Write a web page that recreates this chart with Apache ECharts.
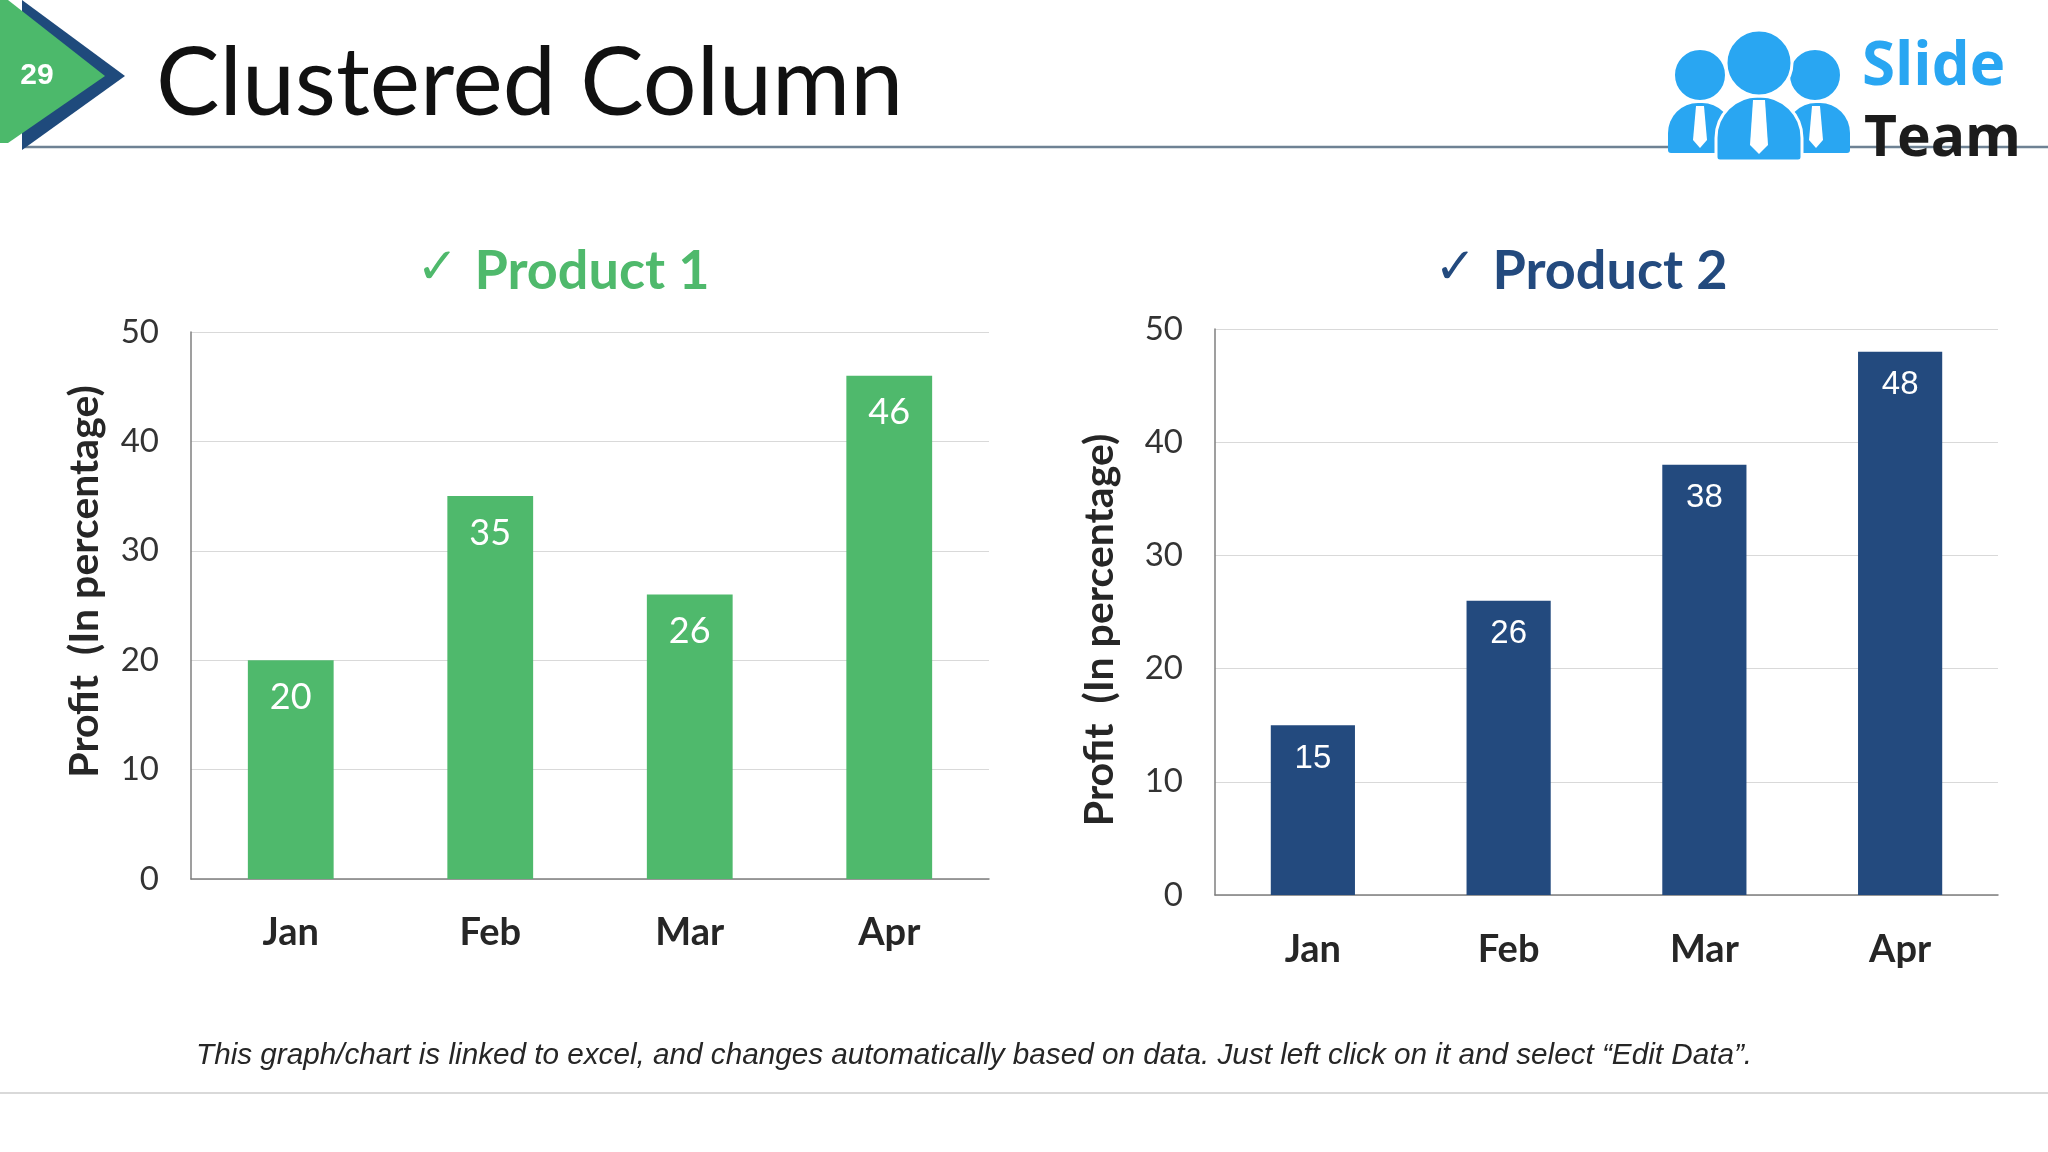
<!DOCTYPE html>
<html>
<head>
<meta charset="utf-8">
<script src="https://cdn.jsdelivr.net/npm/echarts@6/dist/echarts.min.js"></script>
<style>
html,body{margin:0;padding:0;background:#fff;}
#c{width:2048px;height:1152px;}
</style>
</head>
<body>
<div id="c"></div>
<script>
var months = ['Jan', 'Feb', 'Mar', 'Apr'];
var product1 = [20, 35, 26, 46];
var product2 = [15, 26, 38, 48];
var yTicks = [0, 10, 20, 30, 40, 50];
var pageTitle = 'Clustered Column';
var slideNumber = '29';
var axisName = 'Profit  (In percentage)';
var footnote = 'This graph/chart is linked to excel, and changes automatically based on data. Just left click on it and select \u201cEdit Data\u201d.';

var GREEN = '#4fb96c';
var NAVY = '#234a7e';
var chart = echarts.init(document.getElementById('c'));

function yAxis(gridIndex, gap, pad, fam) {
  return {
    type: 'value', gridIndex: gridIndex, min: yTicks[0], max: yTicks[yTicks.length - 1], interval: 10,
    name: axisName, nameLocation: 'middle', nameGap: gap, nameRotate: 90,
    nameTextStyle: { fontFamily: 'Lato', fontWeight: 'bold', fontSize: 41, color: '#262626', padding: pad },
    axisLine: { show: true, lineStyle: { color: '#7f7f7f', width: 1.5 } },
    axisTick: { show: false },
    axisLabel: { margin: 32, fontFamily: fam, fontSize: 33, color: '#333' },
    splitLine: { lineStyle: { color: '#d9d9d9', width: 1.2 } }
  };
}
function xAxis(gridIndex, margin) {
  return {
    type: 'category', gridIndex: gridIndex, data: months,
    axisLine: { lineStyle: { color: '#7f7f7f', width: 1.5 } },
    axisTick: { show: false },
    axisLabel: { margin: margin, fontFamily: 'Lato', fontWeight: 'bold', fontSize: 38, color: '#262626' }
  };
}
function titleRich(color) {
  return {
    c: { fontFamily: 'DejaVu Sans', fontSize: 50, color: color, padding: [0, 16, 4, 0] },
    t: { fontFamily: 'Lato', fontWeight: 'bold', fontSize: 54, color: color }
  };
}

var option = {
  animation: false,
  backgroundColor: '#ffffff',
  title: [
    { text: '{c|\u2713}{t|Product 1}', left: 558, top: 240, textAlign: 'center', textStyle: { rich: titleRich(GREEN) } },
    { text: '{c|\u2713}{t|Product 2}', left: 1576, top: 240, textAlign: 'center', textStyle: { rich: titleRich(NAVY) } }
  ],
  grid: [
    { left: 191, top: 332, width: 798, height: 547 },
    { left: 1215, top: 329, width: 783, height: 566 }
  ],
  xAxis: [xAxis(0, 35), xAxis(1, 36)],
  yAxis: [yAxis(0, 86, [0, 0, 0, 48], 'Lato'), yAxis(1, 95, [0, 36, 0, 0], 'Lato')],
  series: [
    {
      type: 'bar', xAxisIndex: 0, yAxisIndex: 0, data: product1, barWidth: '43%',
      itemStyle: { color: GREEN },
      label: { show: true, position: 'insideTop', distance: 19, color: '#fff', fontFamily: 'Lato', fontSize: 36 }
    },
    {
      type: 'bar', xAxisIndex: 1, yAxisIndex: 1, data: product2, barWidth: '43%',
      itemStyle: { color: NAVY },
      label: { show: true, position: 'insideTop', distance: 17, color: '#fff', fontFamily: 'Liberation Sans', fontSize: 33 }
    }
  ],
  graphic: [
    // header rule
    { type: 'line', shape: { x1: 22, y1: 147, x2: 2048, y2: 147 }, style: { stroke: '#6e8294', lineWidth: 2.5 }, z: 1 },
    // navy and green arrows
    { type: 'polygon', shape: { points: [[22, 0], [125, 76], [22, 150]] }, style: { fill: '#1f4a7c' }, z: 2 },
    { type: 'polygon', shape: { points: [[0, 0], [8, 0], [105, 76], [8, 143], [0, 143]] }, style: { fill: '#4cb96b' }, z: 3 },
    { type: 'text', x: 37, y: 76, style: { text: slideNumber, fill: '#fff', font: 'bold 30px "Liberation Sans"', textAlign: 'center', textVerticalAlign: 'middle' }, z: 4 },
    { type: 'text', x: 156, y: 84, style: { text: pageTitle, fill: '#111', font: '95px Lato', textAlign: 'left', textVerticalAlign: 'middle' }, z: 4 },
    // logo people
    { type: 'rect', shape: { x: 1668, y: 103, width: 64, height: 50, r: [30, 30, 3, 3] }, style: { fill: '#29a6f2' }, z: 5 },
    { type: 'rect', shape: { x: 1786, y: 103, width: 64, height: 50, r: [30, 30, 3, 3] }, style: { fill: '#29a6f2' }, z: 5 },
    { type: 'circle', shape: { cx: 1700, cy: 75, r: 26 }, style: { fill: '#29a6f2', stroke: '#fff', lineWidth: 2 }, z: 5 },
    { type: 'circle', shape: { cx: 1815, cy: 75, r: 26 }, style: { fill: '#29a6f2', stroke: '#fff', lineWidth: 2 }, z: 5 },
    { type: 'polygon', shape: { points: [[1696, 106], [1704, 106], [1707, 140], [1700, 148], [1693, 140]] }, style: { fill: '#fff' }, z: 6 },
    { type: 'polygon', shape: { points: [[1812, 106], [1820, 106], [1823, 140], [1816, 148], [1809, 140]] }, style: { fill: '#fff' }, z: 6 },
    { type: 'rect', shape: { x: 1716, y: 96, width: 86, height: 65, r: [42, 42, 4, 4] }, style: { fill: '#29a6f2', stroke: '#fff', lineWidth: 3 }, z: 7 },
    { type: 'circle', shape: { cx: 1759, cy: 63, r: 33 }, style: { fill: '#29a6f2', stroke: '#fff', lineWidth: 3 }, z: 7 },
    { type: 'polygon', shape: { points: [[1753, 100], [1765, 100], [1768, 145], [1759, 154], [1750, 145]] }, style: { fill: '#fff' }, z: 8 },
    { type: 'text', x: 1862, y: 68, style: { text: 'Slide', fill: '#29a6f2', font: 'bold 60px "Open Sans"', textVerticalAlign: 'middle' }, z: 8 },
    { type: 'text', x: 1864, y: 140, style: { text: 'Team', fill: '#1c1c1c', font: 'bold 57px "Open Sans"', textVerticalAlign: 'middle' }, z: 8 },
    // footnote and bottom rule
    { type: 'text', x: 196, y: 1056, style: { text: footnote, fill: '#262626', font: 'italic 29.7px "Liberation Sans"', textVerticalAlign: 'middle' }, z: 4 },
    { type: 'line', shape: { x1: 0, y1: 1093, x2: 2048, y2: 1093 }, style: { stroke: '#d9d9d9', lineWidth: 2 }, z: 1 }
  ]
};
chart.setOption(option);
</script>
</body>
</html>
